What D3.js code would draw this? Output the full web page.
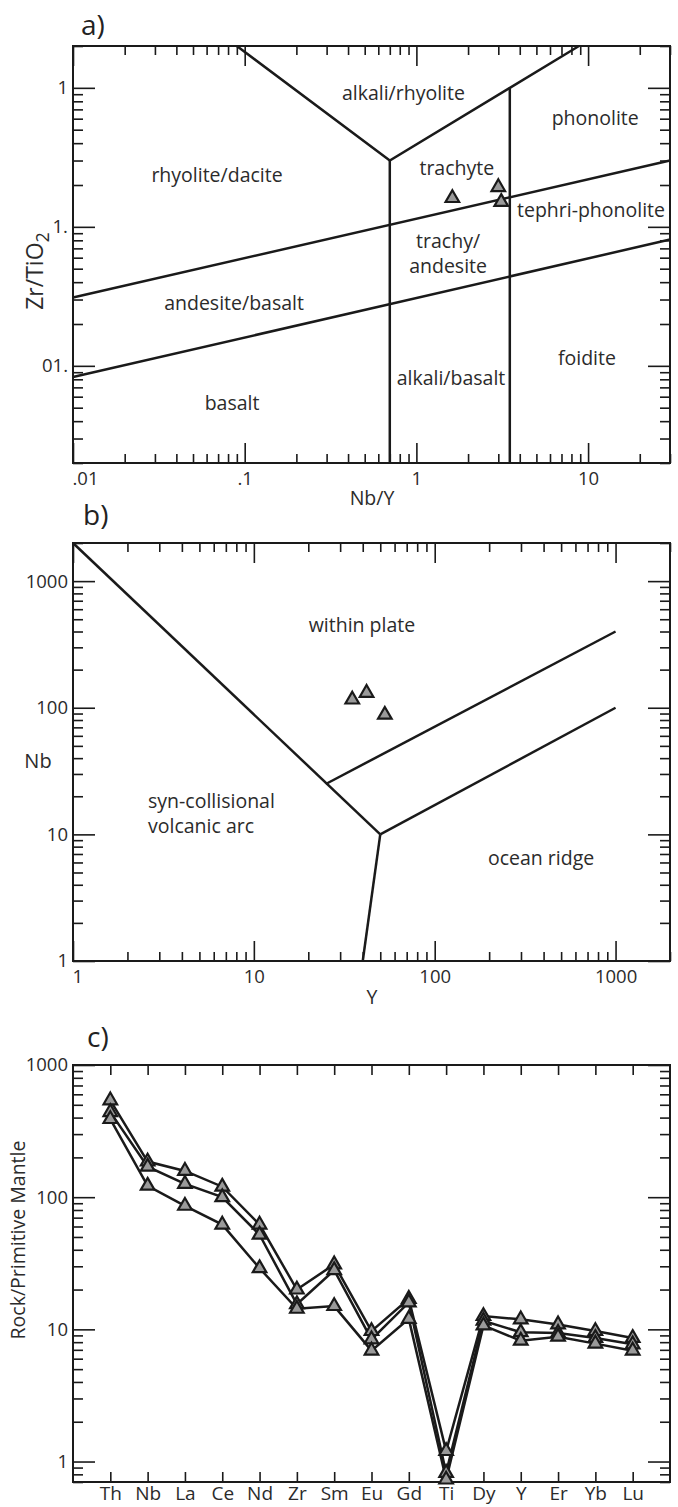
<!DOCTYPE html>
<html>
<head>
<meta charset="utf-8">
<script src="https://cdn.jsdelivr.net/npm/d3@7"></script>
<style>
  body { margin: 0; background: #fff; }
  svg { display: block; font-family: "Open Sans", sans-serif; }
</style>
</head>
<body>
<svg id="chart" width="678" height="1507"></svg>
<script>
// ---------- Data ----------
// a) Zr/TiO2 vs Nb/Y classification, boundaries as [Nb/Y, Zr/TiO2]
const aFieldLines = [
  [[0.09, 2], [0.7, 0.3], [8.85, 2]],
  [[0.7, 0.3], [0.7, 0.002]],
  [[3.5, 1.0], [3.5, 0.002]],
  [[0.01, 0.031], [30, 0.3]],
  [[0.01, 0.0083], [30, 0.081]]
];
const aFieldNames = [
  { text: ["rhyolite/dacite"], x: 0.069, y: 0.21 },
  { text: ["alkali/rhyolite"], x: 0.84, y: 0.82 },
  { text: ["phonolite"], x: 11, y: 0.54 },
  { text: ["trachyte"], x: 1.72, y: 0.236 },
  { text: ["tephri-phonolite"], x: 10.4, y: 0.118 },
  { text: ["trachy/", "andesite"], x: 1.53, y: 0.0705 },
  { text: ["andesite/basalt"], x: 0.0867, y: 0.0252 },
  { text: ["basalt"], x: 0.0844, y: 0.0048 },
  { text: ["alkali/basalt"], x: 1.59, y: 0.00728 },
  { text: ["foidite"], x: 9.85, y: 0.0101 }
];
const aNbY = [1.62, 3.0, 3.12];
const aZrTi = [0.161, 0.193, 0.151];
const aXLabels = { 0.01: ".01", 0.1: ".1", 1: "1", 10: "10" };
const aYLabels = { 1: "1", 0.1: "1.", 0.01: "01." };

// b) Nb vs Y tectonic discrimination, boundaries as [Y, Nb]
const bFieldLines = [
  [[1, 2000], [50, 10]],
  [[50, 10], [1000, 100]],
  [[40, 1], [50, 10]],
  [[25, 25], [1000, 400]]
];
const bFieldNames = [
  { text: ["within plate"], x: 39.6, y: 397, anchor: "middle" },
  { text: ["syn-collisional", "volcanic arc"], x: 2.6, y: 16.2, anchor: "start" },
  { text: ["ocean ridge"], x: 197, y: 5.73, anchor: "start" }
];
const bY = [35, 42, 53];
const bNb = [116, 131, 88];

// c) primitive-mantle normalised spider diagram
const elements = ["Th", "Nb", "La", "Ce", "Nd", "Zr", "Sm", "Eu", "Gd", "Ti", "Dy", "Y", "Er", "Yb", "Lu"];
const sample1 = [540, 186, 158, 120, 62, 20, 31, 9.7, 17, 1.2, 12.6, 11.9, 10.9, 9.7, 8.6];
const sample2 = [440, 170, 126, 100, 52, 15.5, 28, 8.4, 16, 0.82, 11.6, 9.5, 9.4, 8.6, 7.7];
const sample3 = [390, 122, 86, 62, 29, 14.3, 15, 6.9, 12, 0.73, 10.7, 8.2, 8.8, 7.8, 6.9];

// ---------- Helpers ----------
const W = 597;
const ink = "#1a1a1a";
const textCol = "#2b2b2b";
const svg = d3.select("#chart");

function logTicks([lo, hi]) {
  const major = [], minor = [];
  for (let e = Math.floor(Math.log10(lo)) - 1; e <= Math.ceil(Math.log10(hi)); e++) {
    for (let k = 1; k <= 9; k++) {
      const v = +(k * Math.pow(10, e)).toPrecision(6);
      if (v < lo * 0.999 || v > hi * 1.001) continue;
      (k === 1 ? major : minor).push(v);
    }
  }
  return { major, minor };
}

function styleAxis(g) {
  g.select(".domain").remove();
  g.attr("font-family", "'Open Sans', sans-serif").attr("font-size", 18.5);
  g.selectAll("line").attr("stroke", ink).attr("stroke-width", 1.6);
  g.selectAll("text").attr("fill", textCol);
}

function drawAxes(g, x, y, h, xt, yt, xFmt, yFmt) {
  const sides = [
    [d3.axisBottom, `translate(0,${h})`, x, xt, xFmt, 9],
    [d3.axisTop, "translate(0,0)", x, xt, null, 9],
    [d3.axisLeft, "translate(0,0)", y, yt, yFmt, 5],
    [d3.axisRight, `translate(${W},0)`, y, yt, null, 5]
  ];
  sides.forEach(([axisFn, tr, sc, ticks, fmt, pad]) => {
    const isY = axisFn === d3.axisLeft || axisFn === d3.axisRight;
    g.append("g")
      .attr("transform", tr)
      .call(axisFn(sc).tickValues(ticks.minor).tickSize(isY ? -10 : -9).tickFormat(""))
      .call(styleAxis);
    g.append("g")
      .attr("transform", tr)
      .call(axisFn(sc).tickValues(ticks.major).tickSize(isY ? -22 : -20)
        .tickPadding(pad).tickFormat(fmt ? fmt : ""))
      .call(styleAxis);
  });
  g.append("rect")
    .attr("width", W).attr("height", h)
    .attr("fill", "none").attr("stroke", ink).attr("stroke-width", 2);
}

function drawBoundaries(g, lines, x, y) {
  const line = d3.line().x((d) => x(d[0])).y((d) => y(d[1]));
  g.selectAll(".boundary")
    .data(lines)
    .enter()
    .append("path")
    .attr("class", "boundary")
    .attr("d", line)
    .attr("fill", "none")
    .attr("stroke", ink)
    .attr("stroke-width", 2.5);
}

function drawNames(g, names, x, y) {
  names.forEach((n) => {
    const t = g.append("text")
      .attr("x", x(n.x)).attr("y", y(n.y))
      .attr("text-anchor", n.anchor || "middle")
      .attr("font-size", 19.5)
      .attr("fill", textCol);
    n.text.forEach((s, i) => {
      t.append("tspan").attr("x", x(n.x)).attr("dy", i === 0 ? 0 : 25).text(s);
    });
  });
}

const triangle = d3.symbol().type(d3.symbolTriangle).size(80);

function drawTriangles(g, xs, ys, x, y) {
  g.selectAll(".tri")
    .data(xs.map((v, i) => [v, ys[i]]))
    .enter()
    .append("path")
    .attr("class", "tri")
    .attr("d", triangle)
    .attr("transform", (d) => `translate(${x(d[0])},${y(d[1])})`)
    .attr("fill", "#9a9a9a")
    .attr("stroke", ink)
    .attr("stroke-width", 2.2);
}

function panelLabel(txt, px, py) {
  svg.append("text").attr("x", px).attr("y", py)
    .attr("font-size", 28).attr("fill", "#222").text(txt);
}

// ---------- Panel a ----------
{
  const h = 417;
  const g = svg.append("g").attr("transform", "translate(73,46)");
  const x = d3.scaleLog().domain([0.01, 30]).range([0, W]);
  const y = d3.scaleLog().domain([0.002, 2]).range([h, 0]);
  drawBoundaries(g, aFieldLines, x, y);
  drawAxes(g, x, y, h, logTicks(x.domain()), logTicks(y.domain()),
    (d) => aXLabels[d] || "", (d) => aYLabels[d] || "");
  g.selectAll("text").filter(function () { return this.textContent === ".01"; })
    .attr("text-anchor", "start").attr("x", -1);
  drawNames(g, aFieldNames, x, y);
  drawTriangles(g, aNbY, aZrTi, x, y);

  panelLabel("a)", 81, 35);
  svg.append("text").attr("x", 372).attr("y", 505).attr("text-anchor", "middle")
    .attr("font-size", 19.5).attr("fill", textCol).text("Nb/Y");
  const yt = svg.append("text")
    .attr("transform", "translate(43,271) rotate(-90)")
    .attr("text-anchor", "middle").attr("font-size", 23).attr("fill", textCol);
  yt.append("tspan").text("Zr/TiO");
  yt.append("tspan").attr("dy", 6).attr("font-size", 18).text("2");
}

// ---------- Panel b ----------
{
  const h = 418;
  const g = svg.append("g").attr("transform", "translate(73,543)");
  const x = d3.scaleLog().domain([1, 2000]).range([0, W]);
  const y = d3.scaleLog().domain([1, 2000]).range([h, 0]);
  drawBoundaries(g, bFieldLines, x, y);
  const fmt = (d) => ([1, 10, 100, 1000].includes(d) ? String(d) : "");
  drawAxes(g, x, y, h, logTicks(x.domain()), logTicks(y.domain()), fmt, fmt);
  g.selectAll("g.tick text").filter(function () {
    return this.textContent === "1" && this.getAttribute("dy") === "0.71em";
  }).attr("text-anchor", "start").attr("x", -1);
  drawNames(g, bFieldNames, x, y);
  drawTriangles(g, bY, bNb, x, y);

  panelLabel("b)", 83, 525);
  svg.append("text").attr("x", 38).attr("y", 768).attr("text-anchor", "middle")
    .attr("font-size", 20).attr("fill", textCol).text("Nb");
  svg.append("text").attr("x", 372).attr("y", 1004).attr("text-anchor", "middle")
    .attr("font-size", 19.5).attr("fill", textCol).text("Y");
}

// ---------- Panel c ----------
{
  const h = 417;
  const g = svg.append("g").attr("transform", "translate(73,1065)");
  const x = d3.scalePoint().domain(elements).range([0, W]).padding(1);
  const y = d3.scaleLog().domain([0.7, 1000]).range([h, 0]);
  const yt = logTicks(y.domain());
  const fmt = (d) => ([1, 10, 100, 1000].includes(d) ? String(d) : "");

  [[d3.axisBottom, `translate(0,${h})`, (d) => d], [d3.axisTop, "translate(0,0)", () => ""]]
    .forEach(([fn, tr, f]) => {
      g.append("g").attr("transform", tr)
        .call(fn(x).tickSize(-10).tickPadding(4).tickFormat(f))
        .call(styleAxis)
        .attr("font-size", 19);
    });
  [[d3.axisLeft, "translate(0,0)", fmt], [d3.axisRight, `translate(${W},0)`, () => ""]]
    .forEach(([fn, tr, f]) => {
      g.append("g").attr("transform", tr)
        .call(fn(y).tickValues(yt.minor).tickSize(-10).tickFormat(""))
        .call(styleAxis);
      g.append("g").attr("transform", tr)
        .call(fn(y).tickValues(yt.major).tickSize(-22).tickPadding(5).tickFormat(f))
        .call(styleAxis);
    });
  g.append("rect").attr("width", W).attr("height", h)
    .attr("fill", "none").attr("stroke", ink).attr("stroke-width", 2);

  const samples = [sample1, sample2, sample3];
  const line = d3.line().x((d, i) => x(elements[i])).y((d) => y(d));
  g.selectAll(".series")
    .data(samples)
    .enter()
    .append("path")
    .attr("class", "series")
    .attr("d", line)
    .attr("fill", "none")
    .attr("stroke", ink)
    .attr("stroke-width", 2.5);
  samples.forEach((s) => drawTriangles(g.append("g"), elements, s, x, y));

  panelLabel("c)", 87, 1047);
  svg.append("text")
    .attr("transform", "translate(25,1240) rotate(-90)")
    .attr("text-anchor", "middle").attr("font-size", 19.5).attr("fill", textCol)
    .text("Rock/Primitive Mantle");
}
</script>
</body>
</html>
